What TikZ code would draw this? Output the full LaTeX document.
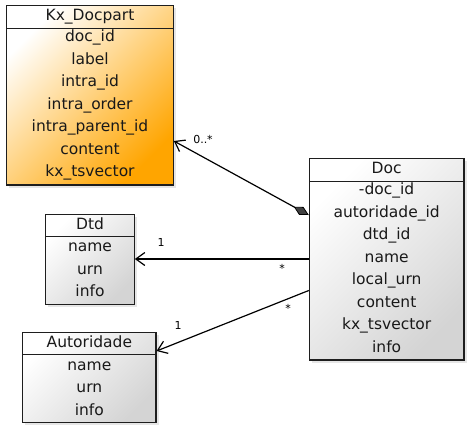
\documentclass[tikz,border=0pt]{standalone}
\usepackage{fontspec}
\setmainfont{DejaVu Sans}
\usetikzlibrary{arrows.meta,shadows}
\definecolor{orng}{HTML}{FFA500}
\definecolor{gry}{HTML}{D4D4D4}
\definecolor{bord}{HTML}{1E1E1E}
\tikzset{
  classbox/.style={draw=bord, line width=1.1pt, rectangle, inner sep=0pt,
    drop shadow={shadow xshift=2.5pt, shadow yshift=-2.5pt, opacity=0.2}},
  orangebox/.style={classbox, top color=white, bottom color=orng, shading angle=45},
  graybox/.style={classbox, top color=white, bottom color=gry, shading angle=45},
  hdr/.style={draw=bord, line width=0.9pt},
  attr/.style={font=\fontsize{15.5}{18}\selectfont, text=black!90, inner sep=0pt, anchor=center, text height=11pt, text depth=3.5pt},
  mult/.style={font=\fontsize{11}{13}\selectfont, inner sep=0pt},
  conn/.style={line width=1.2pt, draw=black},
  openarrow/.style={-{Straight Barb[length=9pt,width=13pt,line width=1.2pt]}},
}
\begin{document}
\begin{tikzpicture}[x=1pt,y=-1pt]
\useasboundingbox (0,0) rectangle (471,429);
% Kx_Docpart
\node[orangebox, minimum width=166.6pt, minimum height=179.3pt] (kx) at (90,95.35) {};
\draw[hdr] (6.7,28) -- (173.3,28);
\node[attr] (kxt) at (90,17) {Kx\_Docpart};
\node[attr] (kx1) at (90,38) {doc\_id};
\node[attr] (kx2) at (90,60.5) {label};
\node[attr] (kx3) at (90,83) {intra\_id};
\node[attr] (kx4) at (90,105.5) {intra\_order};
\node[attr] (kx5) at (90,128) {intra\_parent\_id};
\node[attr] (kx6) at (90,150.5) {content};
\node[attr] (kx7) at (90,173) {kx\_tsvector};
% Doc
\node[graybox, minimum width=154.7pt, minimum height=201.7pt] (doc) at (386.65,259.15) {};
\draw[hdr] (309.3,181) -- (464,181);
\node[attr] (doct) at (386.65,169.5) {Doc};
\node[attr] (doc1) at (386.65,191) {-doc\_id};
\node[attr] (doc2) at (386.65,213.5) {autoridade\_id};
\node[attr] (doc3) at (386.65,236) {dtd\_id};
\node[attr] (doc4) at (386.65,258.5) {name};
\node[attr] (doc5) at (386.65,281) {local\_urn};
\node[attr] (doc6) at (386.65,303.5) {content};
\node[attr] (doc7) at (386.65,326) {kx\_tsvector};
\node[attr] (doc8) at (386.65,348.5) {info};
% Dtd
\node[graybox, minimum width=88.6pt, minimum height=90pt] (dtd) at (90,259.3) {};
\draw[hdr] (45.7,236) -- (134.3,236);
\node[attr] (dtdt) at (90,225.5) {Dtd};
\node[attr] (dtd1) at (90,248) {name};
\node[attr] (dtd2) at (90,270.5) {urn};
\node[attr] (dtd3) at (90,293) {info};
% Autoridade
\node[graybox, minimum width=133.3pt, minimum height=90pt] (aut) at (89.35,377.7) {};
\draw[hdr] (22.7,354.3) -- (156,354.3);
\node[attr] (autt) at (89.35,344) {Autoridade};
\node[attr] (aut1) at (89.35,366.5) {name};
\node[attr] (aut2) at (89.35,389) {urn};
\node[attr] (aut3) at (89.35,411.5) {info};
% connectors
\coordinate (c1a) at (doc.west |- 0,215);
\coordinate (c1b) at (kx.east |- 0,141);
\draw[conn, {Diamond[length=17pt,width=9pt,fill=black!75,line width=0.8pt]}-{Straight Barb[length=9pt,width=13pt,line width=1.2pt]}] (c1a) -- (c1b);
\coordinate (c2a) at (doc.west |- 0,259);
\coordinate (c2b) at (dtd.east |- 0,259);
\draw[conn, openarrow] (c2a) -- (c2b);
\coordinate (c3a) at (doc.west |- 0,290.5);
\coordinate (c3b) at (aut.east |- 0,351);
\draw[conn, openarrow] (c3a) -- (c3b);
% multiplicities
\node[mult] (m1) at (203,139) {0..*};
\node[mult] (m2) at (161,242) {1};
\node[mult] (m3) at (282,268) {*};
\node[mult] (m4) at (178,325) {1};
\node[mult] (m5) at (288,308) {*};
\end{tikzpicture}
\end{document}
